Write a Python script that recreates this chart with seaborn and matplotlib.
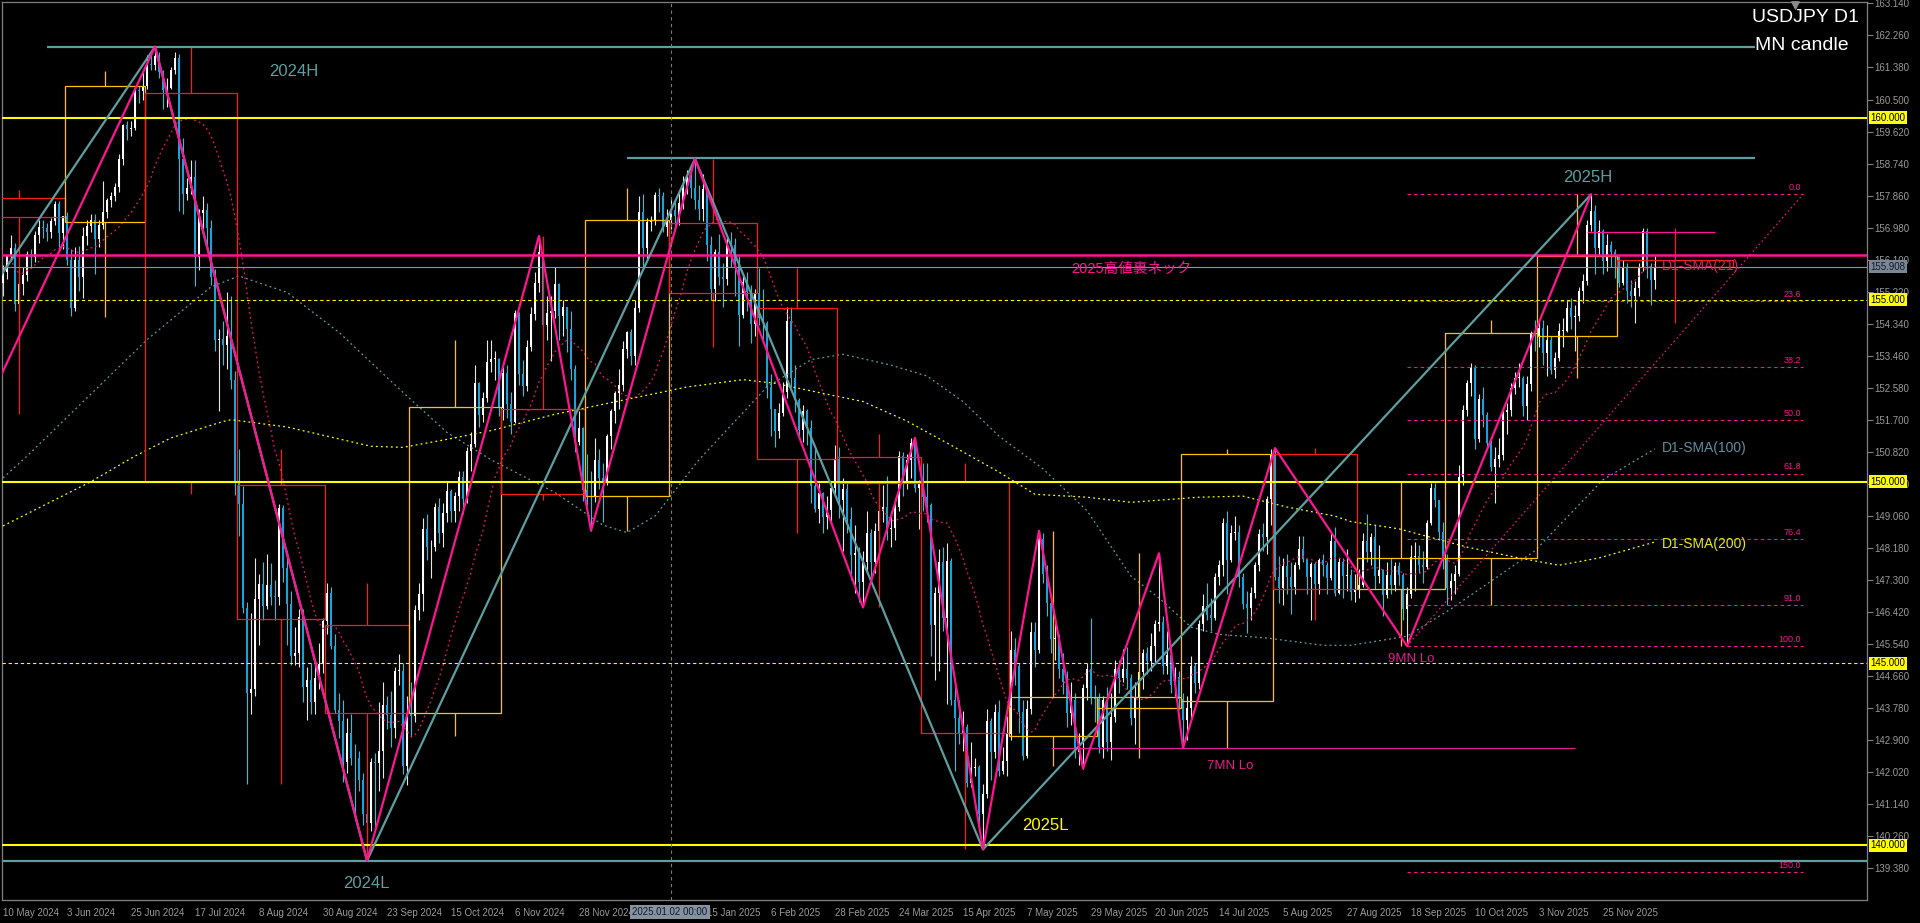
import numpy as np
import pandas as pd
import matplotlib
matplotlib.use('Agg')
import matplotlib.pyplot as plt
import matplotlib.transforms as mtransforms
from matplotlib.patches import Rectangle
import seaborn as sns

# ---------------- data (USDJPY daily) ----------------
first_open = 155.47
closes = [
    155.77, 156.21, 156.41, 154.88, 155.43, 155.67, 156.25, 156.17, 156.79, 157.00, 156.98, 156.86, 157.16, 157.64, 156.82, 157.29,  # May 24
    156.10, 154.77, 156.09, 155.61, 156.75, 157.03, 157.18, 156.66, 157.04, 157.40, 157.74, 157.86, 158.10, 158.87, 159.79, 159.69, 159.73, 160.77, 160.73, 160.88,  # Jun
    161.47, 161.46, 161.69, 161.25, 160.76, 160.83, 161.32, 161.64, 158.87, 157.89, 158.06, 158.38, 156.16, 157.37, 157.46, 156.96, 155.62, 153.88, 153.93, 153.76, 154.00, 152.78, 149.98,  # Jul
    149.37, 146.53, 144.18, 144.30, 146.78, 147.18, 146.59, 147.17, 146.84, 146.82, 149.27, 147.63, 146.63, 145.20, 145.28, 146.27, 144.35, 144.54, 143.94, 144.61, 144.98, 146.17,  # Aug
    146.94, 145.48, 143.71, 143.42, 142.30, 143.10, 142.40, 142.39, 141.81, 140.85, 140.62, 142.30, 142.27, 142.60, 143.85, 143.58, 143.22, 144.79, 144.80, 142.18, 143.63,  # Sep
    143.56, 146.47, 146.92, 148.70, 148.19, 148.19, 149.30, 148.58, 149.14, 149.74, 149.19, 149.60, 150.12, 149.52, 150.84, 151.04, 152.70, 151.83, 152.31, 153.29, 153.38, 153.38, 152.03,  # Oct
    152.98, 152.14, 151.63, 154.63, 152.95, 152.64, 153.71, 154.60, 155.45, 156.30, 154.30, 154.64, 154.68, 155.44, 154.55, 154.79, 154.20, 153.08, 151.08, 151.48, 149.77,  # Nov
    149.59, 149.58, 150.60, 150.10, 149.98, 151.25, 151.95, 152.43, 152.66, 153.64, 154.11, 153.44, 154.76, 157.40, 156.41, 157.14, 157.18, 157.87, 157.84, 156.99, 157.20,  # Dec
    157.45, 157.29, 157.65, 158.07, 158.33, 158.07, 157.74, 157.49, 158.05, 156.50, 155.30, 156.31, 155.61, 155.57, 156.58, 156.49, 156.02, 154.58, 155.49, 155.22, 154.33, 155.18,  # Jan 25
    154.50, 154.35, 152.61, 151.99, 151.40, 151.89, 152.47, 154.42, 152.85, 152.25, 151.41, 151.95, 151.48, 149.87, 149.24, 149.69, 149.03, 149.22, 149.82, 150.62,  # Feb
    149.48, 149.80, 148.97, 147.98, 148.03, 147.25, 147.80, 148.60, 147.78, 148.65, 149.20, 149.29, 148.70, 148.72, 149.31, 150.70, 149.93, 150.59, 151.05, 149.83, 149.96,  # Mar
    149.58, 149.35, 146.07, 146.93, 147.78, 146.26, 147.82, 144.01, 143.51, 143.05, 143.25, 141.71, 142.12, 142.16, 140.87, 141.41, 143.42, 142.57, 143.66, 142.04, 142.33, 143.07,  # Apr
    145.38, 144.93, 143.67, 142.47, 143.76, 145.87, 145.37, 148.42, 147.47, 146.67, 145.66, 145.70, 144.85, 144.48, 143.65, 144.01, 142.56, 142.87, 144.32, 144.85, 144.09, 144.02,  # May
    142.71, 144.01, 142.83, 143.52, 144.86, 144.60, 144.84, 144.59, 143.50, 144.08, 144.76, 145.28, 145.08, 145.48, 146.09, 146.15, 144.93, 145.24, 144.42, 144.62, 144.03,  # Jun
    143.44, 143.78, 144.94, 144.46, 146.08, 146.58, 146.33, 146.25, 147.39, 147.72, 148.86, 147.85, 148.60, 148.61, 147.38, 146.64, 146.53, 146.94, 147.70, 148.55, 148.47, 149.51, 150.75,  # Jul
    147.39, 147.07, 147.68, 147.38, 147.10, 147.70, 148.15, 147.86, 147.38, 147.74, 147.19, 147.84, 147.70, 147.35, 148.37, 146.93, 147.80, 147.41, 147.42, 146.96, 147.05,  # Aug
    147.16, 148.37, 148.07, 148.47, 147.41, 147.57, 146.89, 147.44, 147.17, 147.68, 147.43, 146.50, 146.91, 147.94, 147.96, 147.72, 147.65, 148.87, 149.81, 149.49, 148.61, 147.90,  # Sep
    147.07, 147.27, 147.47, 150.12, 151.98, 152.72, 153.13, 151.18, 152.26, 151.84, 151.07, 150.40, 150.62, 150.74, 151.91, 151.97, 152.56, 152.86, 152.86, 152.07, 152.68, 154.08, 154.01,  # Oct
    154.22, 153.52, 153.89, 153.07, 153.39, 154.13, 154.15, 154.78, 154.53, 154.55, 155.23, 155.52, 157.06, 157.44, 156.41, 156.88, 156.06, 156.51, 156.30, 156.18,  # Nov
    155.46, 155.88, 155.25, 155.10, 155.33, 155.91, 156.88, 155.92, 155.55, 155.91,  # Dec
]
highs = [
    155.95, 156.24, 156.79, 156.55, 155.65, 155.90, 156.35, 156.40, 156.89, 157.20, 157.19, 157.10, 157.25, 157.72, 157.70, 157.30,
    157.40, 156.40, 156.45, 156.48, 157.00, 157.20, 157.34, 157.35, 157.20, 158.25, 157.80, 157.95, 158.20, 159.00, 159.84, 159.92, 159.90, 160.85, 160.87, 161.27,
    161.72, 161.75, 161.95, 161.80, 161.30, 161.10, 161.40, 161.80, 161.76, 159.45, 158.35, 158.85, 158.85, 157.48, 157.85, 157.65, 157.20, 155.85, 154.20, 154.40, 155.20, 155.10, 153.05,
    150.89, 149.88, 146.70, 146.40, 147.90, 147.45, 147.80, 148.00, 147.75, 147.30, 149.39, 149.35, 148.10, 147.00, 146.00, 146.50, 146.50, 144.90, 145.00, 144.95, 145.55, 146.25,
    147.21, 147.10, 145.80, 144.20, 144.00, 143.50, 143.60, 142.80, 142.60, 142.00, 141.30, 142.40, 142.55, 143.95, 144.49, 144.10, 144.25, 144.90, 145.25, 145.00, 144.10,
    144.50, 146.60, 147.20, 149.00, 149.10, 148.40, 149.40, 149.55, 149.40, 149.98, 149.80, 149.70, 150.30, 150.30, 150.95, 151.35, 153.19, 152.75, 152.45, 153.88, 153.88, 153.60, 153.40,
    153.15, 153.20, 152.45, 154.71, 154.65, 153.35, 153.90, 154.80, 155.75, 156.75, 156.40, 155.10, 155.10, 155.90, 155.45, 155.00, 154.80, 154.70, 153.20, 151.95, 151.50,
    150.75, 150.30, 151.20, 150.90, 150.50, 151.30, 152.00, 152.50, 153.10, 153.85, 154.15, 154.20, 155.00, 157.85, 157.90, 157.25, 157.30, 157.95, 158.08, 157.95, 157.50,
    157.80, 157.70, 158.00, 158.40, 158.55, 158.50, 158.87, 158.15, 158.45, 158.10, 156.75, 156.40, 156.80, 156.00, 156.70, 156.85, 156.70, 156.20, 155.70, 155.75, 155.40, 155.30,
    155.88, 155.30, 154.40, 152.95, 152.00, 152.15, 152.75, 154.80, 154.80, 153.20, 152.30, 152.10, 152.00, 151.70, 150.90, 149.95, 149.70, 149.60, 150.00, 151.00,
    150.95, 150.10, 149.95, 149.30, 148.80, 148.20, 148.10, 149.20, 148.70, 148.85, 149.30, 149.90, 150.15, 149.20, 149.55, 150.85, 150.80, 150.75, 151.20, 151.20, 150.05,
    150.50, 150.50, 149.40, 147.10, 148.15, 148.20, 148.30, 147.90, 144.40, 144.00, 143.70, 143.35, 142.85, 142.40, 142.20, 141.70, 143.75, 143.50, 143.90, 144.00, 142.70, 143.55,
    145.90, 145.70, 145.00, 144.00, 144.00, 146.15, 146.15, 148.65, 148.60, 147.70, 146.90, 146.20, 145.80, 145.30, 144.80, 144.50, 144.20, 143.10, 144.45, 145.00, 146.25, 144.40,
    144.20, 144.10, 144.35, 144.20, 145.10, 145.10, 145.40, 145.45, 144.70, 144.50, 144.80, 145.40, 145.45, 145.85, 146.20, 148.03, 146.30, 145.90, 145.40, 144.90, 144.80,
    144.20, 144.10, 145.20, 145.00, 146.20, 146.90, 147.20, 146.80, 147.50, 147.85, 149.00, 149.20, 148.80, 149.05, 148.80, 147.50, 147.00, 147.10, 147.80, 148.70, 148.85, 149.60, 150.90,
    150.92, 147.95, 147.90, 148.00, 147.80, 147.80, 148.50, 148.50, 147.90, 147.80, 147.80, 147.90, 148.00, 147.80, 148.60, 148.75, 147.90, 147.90, 148.15, 147.60, 147.45,
    147.60, 148.60, 149.10, 148.60, 148.80, 148.25, 147.60, 147.80, 147.90, 147.80, 147.80, 147.50, 147.10, 148.25, 148.35, 148.25, 148.10, 148.95, 149.95, 149.95, 149.50, 148.90,
    148.00, 147.50, 147.70, 150.45, 152.10, 152.80, 153.25, 153.20, 152.40, 152.60, 151.90, 151.20, 150.95, 151.20, 152.00, 152.15, 152.70, 153.00, 153.25, 152.90, 152.90, 154.15, 154.45,
    154.40, 154.45, 154.30, 154.00, 153.55, 154.35, 154.50, 155.00, 155.05, 154.85, 155.35, 155.70, 157.20, 157.89, 157.60, 157.20, 156.95, 156.80, 156.60, 156.40,
    156.20, 156.10, 156.00, 155.55, 155.50, 156.00, 156.96, 156.96, 156.00, 156.20,
]
lows = [
    155.10, 155.56, 156.05, 154.70, 153.60, 155.12, 155.50, 155.90, 156.03, 156.55, 156.70, 156.60, 156.70, 157.05, 156.37, 156.40,
    155.95, 154.55, 154.70, 155.25, 155.05, 156.50, 156.85, 155.70, 156.45, 156.95, 157.25, 157.55, 157.70, 157.95, 158.70, 159.40, 159.50, 159.65, 160.40, 160.50,
    160.80, 161.30, 161.30, 161.10, 160.25, 160.30, 160.80, 161.20, 157.44, 157.36, 157.75, 157.90, 155.37, 155.82, 156.95, 156.50, 155.40, 153.60, 151.95, 153.20, 153.10, 152.55, 149.63,
    148.51, 146.40, 141.68, 143.60, 144.10, 145.50, 146.20, 146.50, 146.60, 146.20, 146.60, 147.25, 145.50, 144.95, 144.95, 144.90, 143.95, 143.45, 143.60, 143.60, 144.30, 144.75,
    145.80, 145.40, 143.65, 142.95, 141.75, 142.00, 142.20, 140.71, 141.50, 140.55, 139.58, 140.40, 140.45, 141.50, 141.85, 143.20, 142.70, 142.95, 144.40, 141.95, 141.65,
    142.97, 143.40, 146.20, 146.45, 147.85, 147.35, 148.10, 148.30, 148.20, 148.90, 148.90, 148.90, 149.20, 149.10, 149.40, 150.30, 150.95, 151.50, 151.65, 152.20, 153.00, 152.80, 151.80,
    151.70, 151.75, 151.30, 151.60, 152.65, 152.35, 152.50, 153.60, 154.45, 155.20, 153.90, 153.90, 153.30, 154.50, 153.90, 154.00, 153.55, 152.80, 150.80, 151.00, 149.47,
    149.35, 148.65, 149.45, 149.80, 148.90, 149.90, 150.90, 151.60, 152.00, 152.50, 153.40, 153.20, 153.20, 154.65, 155.90, 156.10, 156.90, 157.05, 157.40, 156.85, 156.75,
    156.95, 156.90, 157.05, 157.50, 157.90, 157.80, 157.50, 157.20, 157.15, 156.05, 155.00, 154.95, 155.40, 154.80, 155.40, 155.90, 155.10, 153.72, 154.50, 154.70, 153.80, 154.00,
    154.30, 153.85, 152.30, 151.25, 150.95, 151.20, 151.80, 152.30, 152.60, 151.90, 151.25, 151.10, 151.00, 149.40, 149.15, 148.85, 148.60, 148.70, 148.90, 149.60,
    149.00, 148.10, 148.60, 147.30, 146.95, 146.70, 146.54, 147.50, 147.30, 147.50, 148.40, 148.90, 148.40, 148.20, 148.40, 149.20, 149.60, 149.80, 150.10, 149.70, 148.70,
    149.20, 148.90, 145.20, 144.55, 144.80, 145.90, 143.90, 143.85, 142.05, 142.80, 142.60, 141.60, 141.60, 141.90, 140.60, 139.89, 141.30, 141.80, 142.40, 141.90, 141.95, 141.90,
    142.90, 144.40, 143.10, 142.35, 142.40, 143.60, 144.90, 145.30, 147.20, 146.30, 145.30, 145.10, 144.60, 144.15, 143.25, 143.30, 142.40, 142.20, 142.11, 144.00, 143.90, 143.40,
    142.55, 142.40, 142.60, 142.35, 143.40, 144.20, 144.50, 144.30, 143.30, 142.80, 143.60, 144.30, 144.70, 144.80, 145.05, 145.90, 144.70, 144.70, 144.20, 144.10, 143.75,
    142.68, 142.90, 143.50, 144.20, 144.30, 145.90, 146.20, 145.90, 146.20, 147.15, 147.40, 146.90, 147.80, 148.40, 147.10, 146.50, 145.85, 146.20, 146.80, 147.55, 148.10, 148.00, 148.80,
    147.30, 146.65, 146.60, 146.90, 146.35, 146.90, 147.60, 147.80, 146.90, 146.20, 146.90, 146.90, 147.40, 146.90, 147.30, 146.85, 146.90, 146.80, 147.00, 146.75, 146.70,
    146.80, 147.10, 147.80, 147.70, 147.05, 147.20, 146.30, 146.80, 146.90, 147.00, 147.15, 146.20, 145.48, 146.80, 147.00, 147.50, 147.20, 147.60, 148.80, 149.30, 148.40, 147.60,
    146.60, 146.75, 146.90, 147.40, 149.90, 151.80, 152.35, 150.90, 151.10, 151.50, 150.90, 150.30, 149.40, 150.40, 150.60, 151.30, 151.80, 152.40, 152.60, 151.80, 151.70, 152.50, 153.60,
    153.70, 153.20, 152.90, 152.95, 152.86, 153.30, 153.70, 154.10, 154.20, 153.60, 154.40, 154.90, 155.40, 156.90, 155.70, 156.20, 155.70, 155.80, 155.90, 155.60,
    155.35, 155.40, 154.90, 154.80, 154.35, 155.10, 155.80, 155.60, 154.85, 155.30,
]

# monthly candles ("MN candle")
mn_month = ['2024-05', '2024-06', '2024-07', '2024-08', '2024-09', '2024-10', '2024-11', '2024-12',
            '2025-01', '2025-02', '2025-03', '2025-04', '2025-05', '2025-06', '2025-07', '2025-08',
            '2025-09', '2025-10', '2025-11', '2025-12']
mn_open = [157.80, 157.14, 160.69, 149.90, 146.06, 143.65, 152.00, 149.60, 157.10, 154.77,
           150.67, 149.98, 143.00, 143.77, 143.98, 150.75, 147.05, 147.90, 154.00, 156.10]
mn_high = [158.00, 161.27, 161.95, 150.90, 147.20, 153.90, 156.75, 158.07, 158.87, 155.88,
           151.30, 150.50, 148.65, 148.03, 150.90, 150.92, 150.00, 154.45, 157.89, 156.96]
mn_low = [151.86, 154.53, 149.65, 141.68, 139.58, 143.00, 149.50, 148.65, 153.70, 148.60,
          146.54, 139.90, 142.17, 142.40, 142.68, 146.20, 145.48, 146.60, 152.86, 154.35]
mn_close = [157.27, 160.87, 150.00, 146.23, 143.65, 152.04, 149.65, 157.20, 155.18, 150.61,
            149.95, 143.10, 144.09, 144.09, 150.75, 147.05, 147.90, 154.07, 156.19, 155.91]

# SMA(100) / SMA(200)
sma100_dates = ['2024-05-10', '2024-05-20', '2024-07-01', '2024-07-23', '2024-08-01', '2024-08-19',
                '2024-09-05', '2024-09-27', '2024-10-14', '2024-10-29', '2024-11-20', '2024-12-06',
                '2024-12-16', '2024-12-26', '2025-01-13', '2025-02-05', '2025-02-20', '2025-03-04',
                '2025-03-20', '2025-04-02', '2025-04-15', '2025-04-28', '2025-05-13', '2025-05-28',
                '2025-06-12', '2025-06-23', '2025-07-03', '2025-07-14', '2025-07-30', '2025-08-19',
                '2025-08-28', '2025-09-17', '2025-10-02', '2025-10-31', '2025-11-25', '2025-12-12']
sma100_vals = [150.10, 150.70, 153.90, 155.35, 155.65, 155.20, 154.10, 152.45, 151.35, 150.60,
               149.70, 148.80, 148.60, 149.05, 150.60, 152.60, 153.35, 153.50, 153.20, 152.90,
               152.20, 151.25, 150.35, 149.20, 147.40, 146.80, 146.00, 145.80, 145.70, 145.50,
               145.50, 145.75, 146.50, 148.10, 150.05, 150.90]
sma200_dates = ['2024-05-10', '2024-06-11', '2024-06-26', '2024-07-09', '2024-07-26', '2024-07-30',
                '2024-08-19', '2024-09-17', '2024-09-27', '2024-10-14', '2024-10-29', '2024-11-20',
                '2024-12-16', '2025-01-08', '2025-01-28', '2025-02-07', '2025-02-26', '2025-03-11',
                '2025-03-26', '2025-04-10', '2025-04-28', '2025-05-09', '2025-05-28', '2025-06-12',
                '2025-07-07', '2025-07-22', '2025-08-06', '2025-08-22', '2025-08-28', '2025-09-15',
                '2025-10-08', '2025-10-27', '2025-11-10', '2025-11-24', '2025-12-12']
sma200_vals = [148.78, 150.00, 150.70, 151.20, 151.65, 151.70, 151.50, 150.97, 150.94, 151.16,
               151.40, 151.85, 152.26, 152.60, 152.80, 152.70, 152.40, 152.20, 151.66, 151.00,
               150.26, 149.65, 149.57, 149.43, 149.57, 149.60, 149.30, 149.05, 148.90, 148.70,
               148.20, 147.90, 147.70, 147.90, 148.34]

# zigzags (swing points)
zz_pink_dates = ['2024-05-03', '2024-07-03', '2024-09-16', '2024-11-14', '2024-12-03', '2025-01-10',
                 '2025-03-11', '2025-03-28', '2025-04-22', '2025-05-12', '2025-05-27', '2025-06-23',
                 '2025-07-01', '2025-08-01', '2025-09-17', '2025-11-20']
zz_pink_vals = [151.86, 161.95, 139.58, 156.75, 148.65, 158.87, 146.54, 151.20, 139.89, 148.65,
                142.11, 148.03, 142.68, 150.92, 145.48, 157.89]
zz_teal_dates = ['2023-12-28', '2024-07-03', '2024-09-16', '2025-01-10', '2025-04-22', '2025-11-20']
zz_teal_vals = [140.25, 161.95, 139.58, 158.87, 139.89, 157.89]

# fibonacci retracement 9MN Lo -> 2025H
fib_low, fib_high = 145.48, 157.89
fib_ratios = [0.0, 23.6, 38.2, 50.0, 61.8, 76.4, 91.0, 100.0, 150.0]

y_ticks = [163.14, 162.26, 161.38, 160.50, 159.62, 158.74, 157.86, 156.98, 156.10, 155.22, 154.34,
           153.46, 152.58, 151.70, 150.82, 149.94, 149.06, 148.18, 147.30, 146.42, 145.54, 144.66,
           143.78, 142.90, 142.02, 141.14, 140.26, 139.38]
x_tick_dates = ['2024-05-10', '2024-06-03', '2024-06-25', '2024-07-17', '2024-08-08', '2024-08-30',
                '2024-09-23', '2024-10-15', '2024-11-06', '2024-11-28', '2024-12-20', '2025-01-15',
                '2025-02-06', '2025-02-28', '2025-03-24', '2025-04-15', '2025-05-07', '2025-05-29',
                '2025-06-20', '2025-07-14', '2025-08-05', '2025-08-27', '2025-09-18', '2025-10-10',
                '2025-11-03', '2025-11-25']

# ---------------- calendar / positions ----------------
holidays = pd.to_datetime(['2023-12-25', '2024-01-01', '2024-12-25', '2025-01-01'])
cal = pd.bdate_range('2023-11-01', '2025-12-12')
cal = cal[~cal.isin(holidays)]
base = cal.get_loc(pd.Timestamp('2024-05-10'))
last_day = cal[-1]
last_pos = len(cal) - 1 - base


def bar_pos(d):
    d = pd.Timestamp(d)
    if d <= last_day:
        return float(cal.searchsorted(d) - base)
    return float(last_pos + (d - last_day).days)


c = np.array(closes)
h = np.array(highs)
l = np.array(lows)
n = len(c)
assert n == last_pos + 1, (n, last_pos + 1)
o = np.r_[first_open, c[:-1]]
h = np.maximum(h, np.maximum(o, c))
l = np.minimum(l, np.minimum(o, c))
x = np.arange(n)

# ---------------- figure ----------------
sns.set_style('dark', {'axes.facecolor': 'black', 'figure.facecolor': 'black'})
plt.rcParams['font.family'] = ['Liberation Sans', 'Noto Sans CJK JP', 'DejaVu Sans']

W, H = 1920, 923
fig = plt.figure(figsize=(W / 100, H / 100), dpi=100, facecolor='black')
PL, PR, PT, PB = 2, 1867, 2, 900
ax = fig.add_axes([PL / W, 1 - PB / H, (PR - PL) / W, (PB - PT) / H])
ax.set_facecolor('black')

PINK = '#ff1493'
TEAL = '#5f9ea0'
YEL = '#ffff00'
GOLD = '#ffc400'
RED = '#ff1a1a'
DOT = (0, (1.5, 2.5))

# candles
up = c >= o
body_lo = np.minimum(o, c)
body_h = np.maximum(np.abs(c - o), 0.025)
ax.vlines(x[up], l[up], h[up], color='#e6e6e6', lw=0.8, zorder=2)
ax.vlines(x[~up], l[~up], h[~up], color='#22c6d6', lw=0.8, zorder=2)
ax.bar(x[up], body_h[up], bottom=body_lo[up], width=0.7, color='#ffffff', lw=0, zorder=3)
ax.bar(x[~up], body_h[~up], bottom=body_lo[~up], width=0.7, color='#1e9fe0', lw=0, zorder=3)

# moving averages
sma21 = pd.Series(c).rolling(21, min_periods=1).mean()
sns.lineplot(x=x, y=sma21.values, ax=ax, color='#e8186a', linewidth=0.9,
             linestyle=DOT, estimator=None, zorder=4)
sns.lineplot(x=[bar_pos(d) for d in sma100_dates], y=sma100_vals, ax=ax, color=TEAL,
             linewidth=0.9, linestyle=DOT, estimator=None, zorder=4)
sns.lineplot(x=[bar_pos(d) for d in sma200_dates], y=sma200_vals, ax=ax, color=YEL,
             linewidth=0.9, linestyle=DOT, estimator=None, zorder=4)

# monthly candle boxes
for m, mo, mh, ml, mc in zip(mn_month, mn_open, mn_high, mn_low, mn_close):
    start = pd.Timestamp(m + '-01')
    nxt = start + pd.offsets.MonthBegin(1)
    x0 = bar_pos(start) - 0.6
    x1 = bar_pos(nxt) - 0.4
    col = GOLD if mc >= mo else RED
    top, bot = max(mo, mc), min(mo, mc)
    ax.add_patch(Rectangle((x0, bot), x1 - x0, top - bot, fill=False, ec=col, lw=0.9, zorder=4))
    xm = (x0 + x1) / 2
    ax.vlines([xm, xm], [top, ml], [mh, bot], color=col, lw=0.9, zorder=4)

# horizontal levels
for lvl in [160.0, 150.0, 140.0]:
    ax.axhline(lvl, color=YEL, lw=1.5, zorder=5)
for lvl in [155.0, 145.0]:
    ax.axhline(lvl, color=YEL, lw=0.8, ls=(0, (3, 2.5)), zorder=5)
ax.axhline(156.22, color=PINK, lw=1.8, zorder=5)
ax.axhline(155.908, color='#8796a5', lw=0.8, zorder=5)
ax.axhline(139.58, color=TEAL, lw=1.6, zorder=5)
ax.hlines(161.95, bar_pos('2024-05-27'), bar_pos('2026-01-06'), color=TEAL, lw=1.6, zorder=5)
ax.hlines(158.88, bar_pos('2024-12-16'), bar_pos('2026-01-06'), color=TEAL, lw=1.6, zorder=5)
ax.hlines(142.68, bar_pos('2025-05-15'), bar_pos('2025-11-14'), color='#e0208a', lw=0.9, zorder=5)
ax.hlines(156.86, bar_pos('2025-11-19'), bar_pos('2025-12-27'), color=PINK, lw=0.9, zorder=5)

# zigzags
ax.plot([bar_pos(d) for d in zz_teal_dates], zz_teal_vals, color=TEAL, lw=1.6, zorder=6)
ax.plot([bar_pos(d) for d in zz_pink_dates], zz_pink_vals, color=PINK, lw=1.6, zorder=6)

# fibonacci levels and its dotted anchor line
fx0, fx1 = bar_pos('2025-09-17'), bar_pos('2026-01-18')
for r in fib_ratios:
    lvl = fib_high - r / 100 * (fib_high - fib_low)
    ax.hlines(lvl, fx0, fx1, color=PINK, lw=0.8, ls=(0, (3, 3)), zorder=5)
    ax.text(fx1 - 0.5, lvl + 0.06, f'{r:.1f}', color=PINK, fontsize=6.5, ha='right', va='bottom', zorder=7)
ax.plot([fx0, fx1], [fib_low, fib_high], color=PINK, lw=0.8, ls=DOT, zorder=5)

# crosshair
ax.axvline(bar_pos('2025-01-02'), color='#7a7a7a', lw=0.8, ls=(0, (3, 3)), zorder=6)

# annotations
ax.text(72.8, 161.28, '2024H', color=TEAL, fontsize=12, ha='center', va='center', zorder=7)
ax.text(90.8, 138.96, '2024L', color=TEAL, fontsize=12, ha='center', va='center', zorder=7)
ax.text(396.3, 158.37, '2025H', color=TEAL, fontsize=12, ha='center', va='center', zorder=7)
ax.text(260.5, 140.56, '2025L', color=YEL, fontsize=12, ha='center', va='center', zorder=7)
ax.text(267.0, 155.84, '2025高値裏ネック', color=PINK, fontsize=10.5, ha='left', va='center', zorder=7)
ax.text(414.8, 155.92, 'D1-SMA(21)', color='#d8206a', fontsize=10, ha='left', va='center', zorder=7)
ax.text(414.8, 150.92, 'D1-SMA(100)', color='#5f8fa0', fontsize=10, ha='left', va='center', zorder=7)
ax.text(414.8, 148.28, 'D1-SMA(200)', color='#e6e620', fontsize=10, ha='left', va='center', zorder=7)
ax.text(352.0, 145.12, '9MN Lo', color='#e0208a', fontsize=9.5, ha='center', va='center', zorder=7)
ax.text(306.8, 142.18, '7MN Lo', color='#e0208a', fontsize=9.5, ha='center', va='center', zorder=7)

fig.text(1752 / W, 1 - 18 / H, 'USDJPY D1', color='white', fontsize=14, ha='left', va='center')
fig.text(1755 / W, 1 - 46 / H, 'MN candle', color='white', fontsize=14, ha='left', va='center')

# axes setup
ax.set_xlim(-0.25, 466)
ax.set_ylim(138.50, 163.18)
ax.yaxis.tick_right()
ax.set_yticks(y_ticks)
ax.set_yticklabels([f'{v:.3f}' for v in y_ticks])
tick_ts = pd.to_datetime(x_tick_dates)
ax.set_xticks([bar_pos(d) for d in x_tick_dates])
ax.set_xticklabels([f'{d.day} {d.strftime("%b %Y")}' for d in tick_ts])
for lbl in ax.get_xticklabels():
    lbl.set_horizontalalignment('left')
ax.tick_params(axis='both', direction='out', length=4, width=0.8, color='#808080',
               labelcolor='#9a9a9a', labelsize=7, pad=2)
ax.tick_params(axis='y', left=False, right=True, pad=1.5)
ax.set_xlabel('')
ax.set_ylabel('')
ax.grid(False)
for sp in ax.spines.values():
    sp.set_color('#808080')
    sp.set_linewidth(0.9)
    sp.set_visible(True)

# price labels on the right axis
trans = mtransforms.blended_transform_factory(ax.transAxes, ax.transData)
for lvl, txt, bg, fg in [(160.0, '160.000', YEL, 'black'), (150.0, '150.000', YEL, 'black'),
                         (155.0, '155.000', YEL, 'black'), (145.0, '145.000', YEL, 'black'),
                         (140.0, '140.000', YEL, 'black'), (155.908, '155.908', '#7a8896', '#101828')]:
    ax.text(1.0018, lvl, txt, transform=trans, ha='left', va='center', fontsize=7, color=fg,
            bbox=dict(boxstyle='square,pad=0.18', fc=bg, ec='none'), zorder=10, clip_on=False)

# crosshair time label and chart-shift marker
fig.text(670 / W, 1 - 912 / H, '2025.01.02 00:00', color='#101828', fontsize=7, ha='center', va='center',
         bbox=dict(boxstyle='square,pad=0.25', fc='#8593a1', ec='none'))
ax.scatter([(1795 - PL) / (PR - PL)], [0.997], marker='v', s=28, color='#8a8a8a',
           transform=ax.transAxes, clip_on=False, zorder=10)

fig.savefig('out.png', dpi=100, facecolor='black')
